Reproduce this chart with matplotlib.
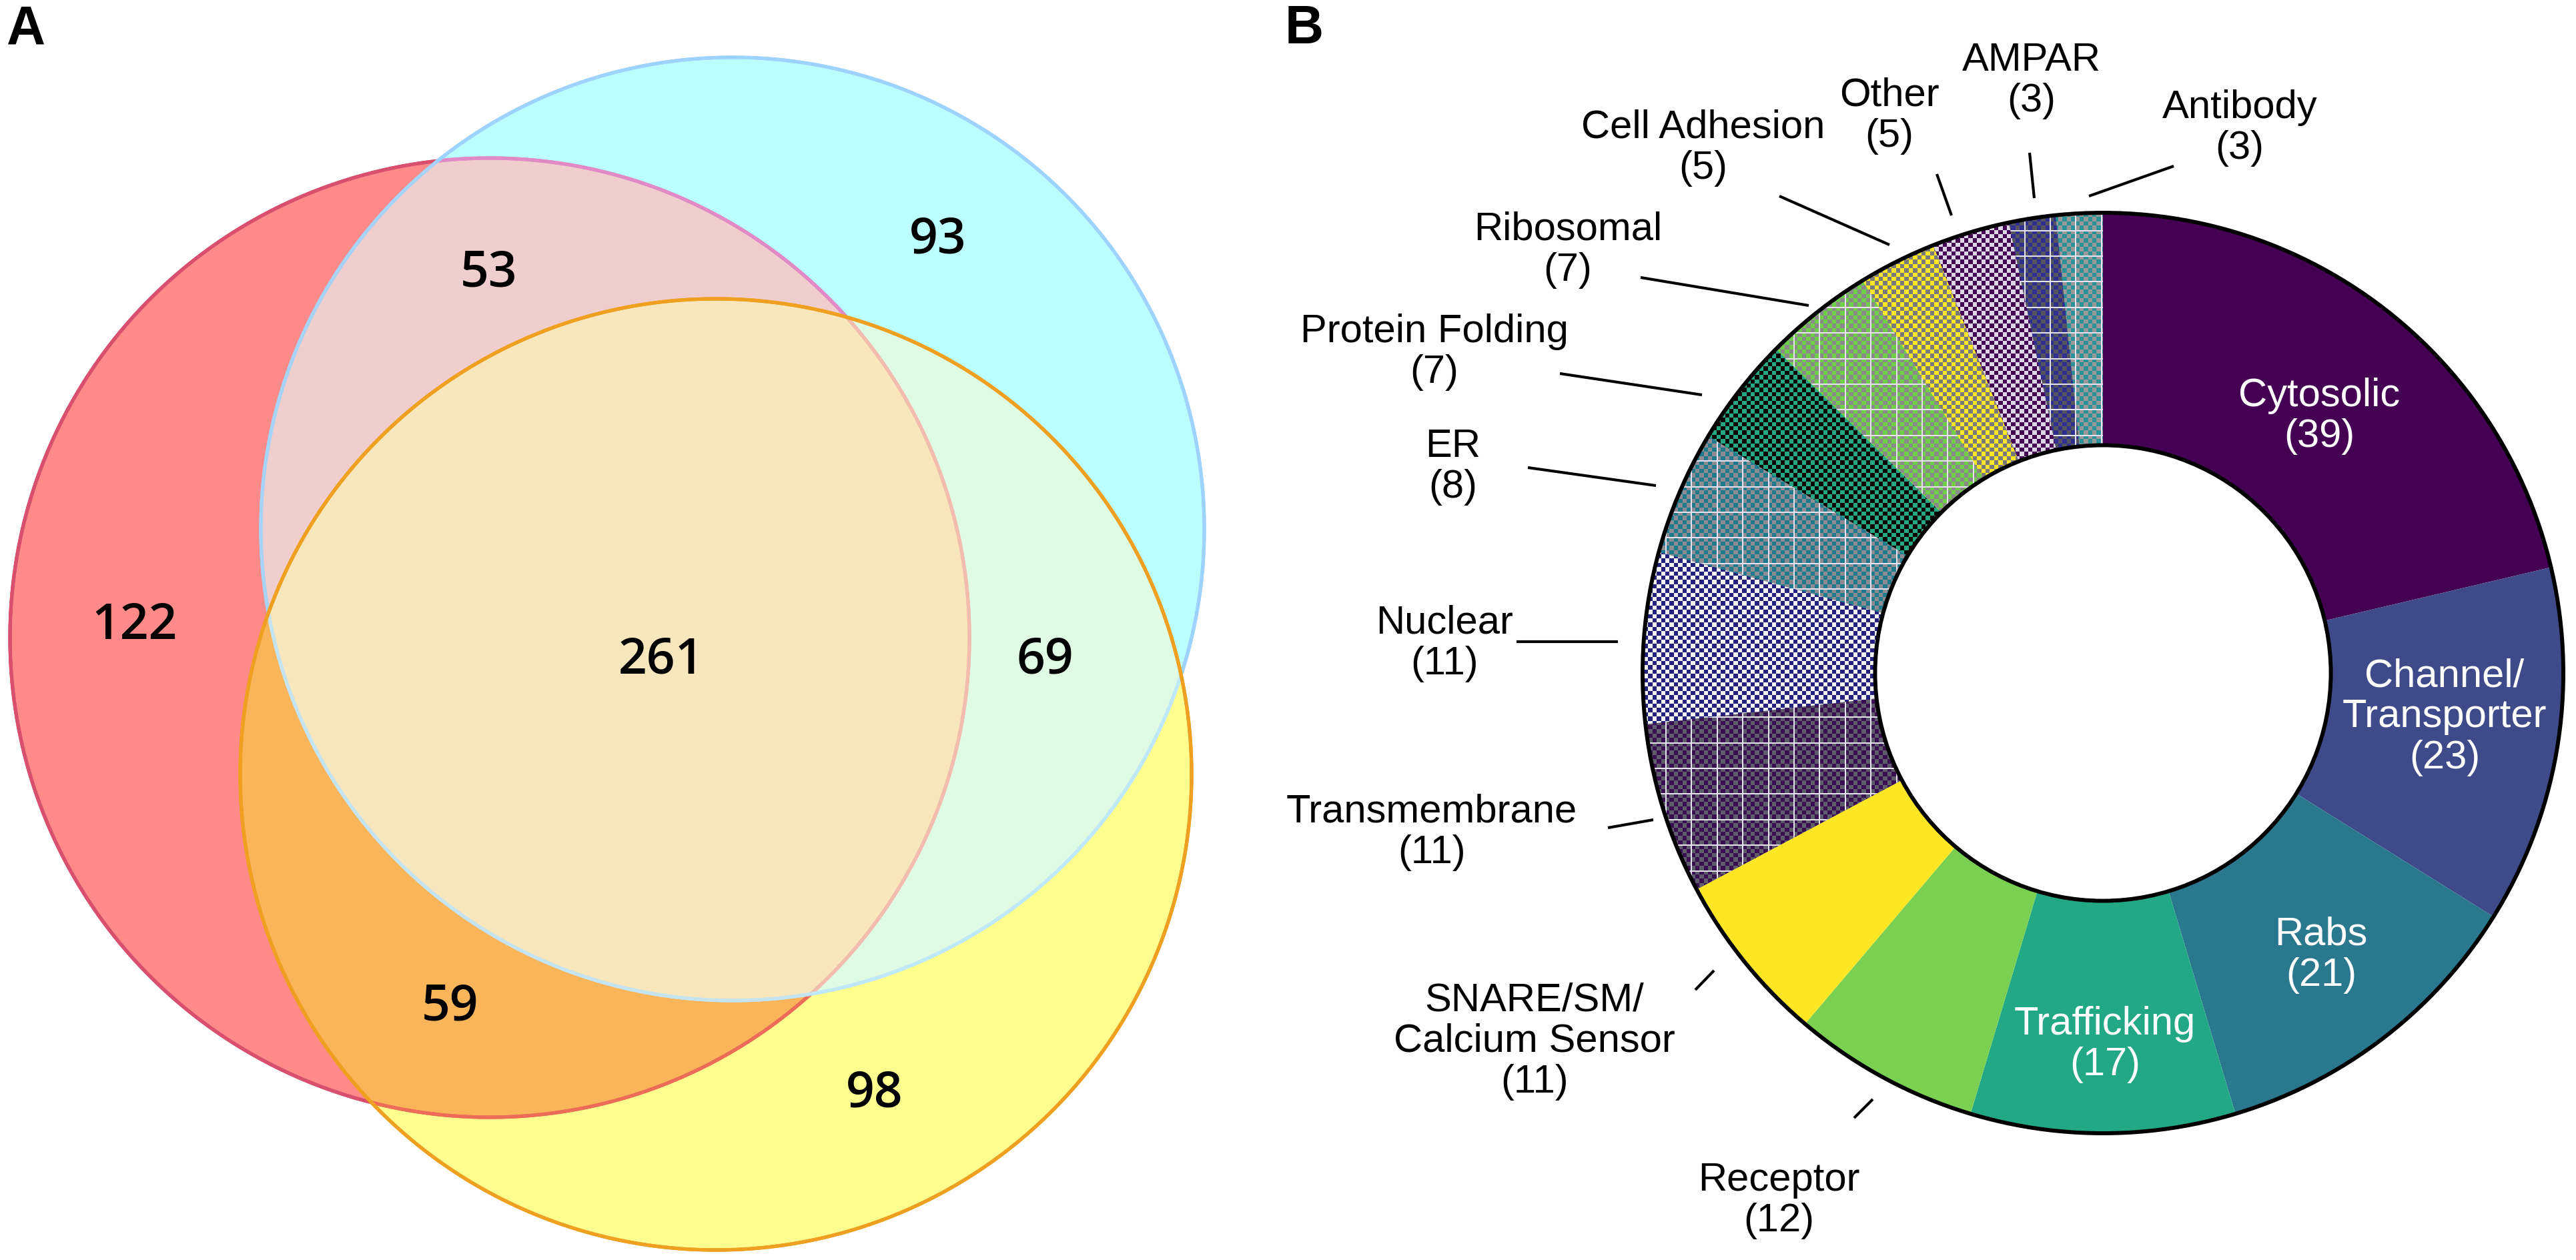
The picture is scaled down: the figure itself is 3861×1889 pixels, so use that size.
import numpy as np
import matplotlib
matplotlib.use('Agg')
import matplotlib.pyplot as plt
from matplotlib.collections import LineCollection
from matplotlib.colors import to_rgb

W, H = 3862, 1890
SPLIT = 1900

# panel A: venn counts, one per region
venn_counts = [122, 53, 93, 261, 69, 59, 98]
venn_sets = ['R', 'RB', 'B', 'RBY', 'BY', 'RY', 'Y']
venn_colors = ['#ff8a8a', '#f1cece', '#bbffff', '#f8e6bc', '#e0fbe4', '#fab55a', '#ffff8f']

# panel B: protein classes
categories = ['Cytosolic', 'Channel/\nTransporter', 'Rabs', 'Trafficking', 'Receptor',
              'SNARE/SM/\nCalcium Sensor', 'Transmembrane', 'Nuclear', 'ER',
              'Protein Folding', 'Ribosomal', 'Cell Adhesion', 'Other', 'AMPAR', 'Antibody']
counts = [39, 23, 21, 17, 12, 11, 11, 11, 8, 7, 7, 5, 5, 3, 3]
colors = ['#440154', '#3e4a89', '#2a788e', '#22a884', '#7ad151', '#fde725',
          '#3a0f52', '#24207e', '#1f7a8e', '#22a884', '#6fcf48', '#fde725',
          '#440154', '#2f2f90', '#2a9296']
# checker colour, grid on/off for the patterned wedges (None = plain)
patterns = [None, None, None, None, None, None,
            ('#5f5d6c', True), ('#f2f2f8', False), ('#8c8c92', True),
            ('#000000', False), ('#8a8a8a', True), ('#7a7a7a', False),
            ('#ddd6e6', False), ('#555560', True), ('#9a9898', True)]

LABEL_FONT = ['Liberation Sans', 'DejaVu Sans']

circles = {'R': (734, 957, 719), 'B': (1098, 794, 707), 'Y': (1073, 1162, 713)}
venn_pos = [(202, 939), (733, 410), (1406, 360), (991, 991), (1566, 991), (675, 1511), (1311, 1640)]

ring_palettes = {
    'R': {'': '#d9506e', 'B': '#e08ac6', 'Y': '#ec6c58', 'BY': '#f2bcae'},
    'B': {'': '#9fd3ff', 'R': '#a6d3f6', 'Y': '#bfe9fb', 'RY': '#c4e4f2'},
    'Y': {'': '#f0a020'},
}


def ring(ax, key, lw, z):
    cx, cy, r = circles[key]
    t = np.linspace(0, 2 * np.pi, 2401)
    pts = np.column_stack([cx + r * np.cos(t), cy + r * np.sin(t)])
    mid = (pts[:-1] + pts[1:]) / 2
    pal = ring_palettes[key]
    cols = []
    for mx, my in mid:
        inside = ''.join(k for k in 'RBY' if k != key and
                         (mx - circles[k][0]) ** 2 + (my - circles[k][1]) ** 2 < circles[k][2] ** 2)
        cols.append(pal.get(inside, pal['']))
    segs = np.stack([pts[:-1], pts[1:]], axis=1)
    ax.add_collection(LineCollection(segs, colors=cols, linewidths=lw, capstyle='round', zorder=z))


def venn_panel(ax):
    yy, xx = np.mgrid[0:H, 0:SPLIT] + 0.5
    inside = {k: (xx - cx) ** 2 + (yy - cy) ** 2 <= r ** 2 for k, (cx, cy, r) in circles.items()}
    img = np.ones((H, SPLIT, 3), dtype=np.float32)
    for sets, col in zip(venn_sets, venn_colors):
        mask = np.ones((H, SPLIT), bool)
        for k in 'RBY':
            mask &= inside[k] if k in sets else ~inside[k]
        img[mask] = to_rgb(col)
    ax.imshow(img, extent=(0, SPLIT, H, 0), interpolation='nearest', zorder=0)
    ring(ax, 'R', 3.8, 2)
    ring(ax, 'B', 3.8, 3)
    ring(ax, 'Y', 3.8, 4)
    for n, (x, y) in zip(venn_counts, venn_pos):
        ax.text(x, y, str(n), ha='center', va='center', fontsize=54, fontweight='semibold',
                family=['Open Sans', 'DejaVu Sans'], color='black', zorder=5)
    ax.set_xlim(0, SPLIT)
    ax.set_ylim(H, 0)
    ax.axis('off')


def texture(ax, wedge, base, check, grid, cell=6.4, step=38.4):
    bb = wedge.get_path().get_extents()
    x0, x1 = int(bb.x0) - 2, int(bb.x1) + 3
    y0, y1 = int(bb.y0) - 2, int(bb.y1) + 3
    yy, xx = np.mgrid[y0:y1, x0:x1] + 0.5
    img = np.empty(xx.shape + (3,), dtype=np.float32)
    img[:] = to_rgb(base)
    chk = ((np.floor(xx / cell) + np.floor(yy / cell)) % 2) == 1
    img[chk] = to_rgb(check)
    if grid:
        g = ((xx % step) < 2) | ((yy % step) < 2)
        img[g] = to_rgb('#e6e2f0')
    im = ax.imshow(img, extent=(x0, x1, y1, y0), interpolation='nearest', zorder=2)
    im.set_clip_path(wedge)


def donut_panel(ax):
    cx, cy, R = 3152, 1010, 690
    wedges, _ = ax.pie(counts, colors=colors, startangle=-90, counterclock=True,
                       radius=R, center=(cx, cy),
                       wedgeprops=dict(width=R * 0.505, linewidth=0, edgecolor='none'))
    for w, c, p in zip(wedges, colors, patterns):
        if p is not None:
            texture(ax, w, c, p[0], p[1])
    for rad in (R, R * 0.495):
        ax.add_patch(plt.Circle((cx, cy), rad, fill=False, edgecolor='black', linewidth=4.3, zorder=4))

    outer = {
        'Antibody': ((3357, 192), [(3258, 250), (3131, 295)]),
        'AMPAR': ((3045, 121), [(3042, 230), (3049, 298)]),
        'Other': ((2832, 174), [(2903, 262), (2925, 324)]),
        'Cell Adhesion': ((2553, 222), [(2667, 295), (2832, 368)]),
        'Ribosomal': ((2350, 375), [(2459, 417), (2711, 459)]),
        'Protein Folding': ((2150, 528), [(2338, 561), (2551, 593)]),
        'ER': ((2178, 700), [(2290, 702), (2482, 729)]),
        'Nuclear': ((2165, 965), [(2273, 963), (2425, 963)]),
        'Transmembrane': ((2146, 1248), [(2410, 1242), (2478, 1230)]),
        'SNARE/SM/\nCalcium Sensor': ((2300, 1561), [(2541, 1485), (2569, 1456)]),
        'Receptor': ((2666, 1800), [(2779, 1677), (2807, 1649)]),
    }
    inner = {
        'Cytosolic': (3476, 624),
        'Channel/\nTransporter': (3664, 1075),
        'Rabs': (3479, 1432),
        'Trafficking': (3155, 1566),
    }
    for name, n in zip(categories, counts):
        txt = f'{name}\n({n})'
        if name in inner:
            x, y = inner[name]
            ax.text(x, y, txt, ha='center', va='center', fontsize=43, color='white',
                    family=LABEL_FONT, linespacing=1.15, zorder=6)
        else:
            (x, y), line = outer[name]
            ax.text(x, y, txt, ha='center', va='center', fontsize=43, color='black',
                    family=LABEL_FONT, linespacing=1.15, zorder=6)
            ax.plot([line[0][0], line[1][0]], [line[0][1], line[1][1]], color='black',
                    linewidth=3, solid_capstyle='butt', zorder=6)
    ax.set_xlim(SPLIT, W)
    ax.set_ylim(H, 0)
    ax.set_aspect('auto')
    ax.axis('off')


fig = plt.figure(figsize=(W / 100, H / 100), dpi=100)
axA = fig.add_axes([0, 0, SPLIT / W, 1])
axB = fig.add_axes([SPLIT / W, 0, (W - SPLIT) / W, 1])
venn_panel(axA)
donut_panel(axB)
fig.text(39 / W, 1 - 44 / H, 'A', ha='center', va='center', fontsize=58, fontweight='bold',
         family=LABEL_FONT)
fig.text(1955 / W, 1 - 44 / H, 'B', ha='center', va='center', fontsize=58, fontweight='bold',
         family=LABEL_FONT)
fig.savefig('out.png', dpi=100, facecolor='white')
